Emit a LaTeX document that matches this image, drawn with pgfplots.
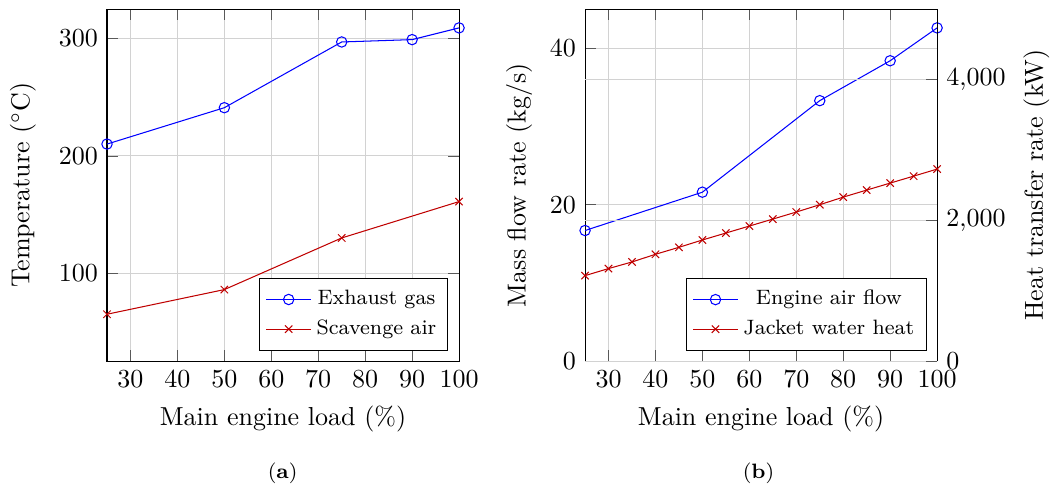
\documentclass[border=0pt]{standalone}
\usepackage{pgfplots}
\pgfplotsset{compat=1.18}
\begin{document}
\begin{tikzpicture}
\useasboundingbox (0pt,0pt) rectangle (404.2pt,185.8pt);
\pgfplotsset{
  every axis/.append style={
    scale only axis, width=135.4pt, height=135.4pt,
    anchor=south west,
    xmin=25, xmax=100,
    xtick={30,40,...,100},
    grid style={gray!35},
    tick style={gray!70!black},
    /pgf/number format/assume math mode=true,
  },
  every axis legend/.append style={
    at={(0.97,0.03)}, anchor=south east, draw=black, font=\footnotesize,
    /tikz/every even column/.append style={column sep=1pt},
    row sep=0.3pt, inner sep=2.5pt,
  },
}
% Panel (a)
\begin{axis}[
  at={(41.15pt,46.9pt)},
  ymin=25, ymax=325,
  ytick={100,200,300},
  xmajorgrids, ymajorgrids,
  xlabel={Main engine load (\%)},
  ylabel={Temperature ($^\circ$C)},
  ylabel style={yshift=2pt},
]
\addplot[blue, mark=o] coordinates {(25,210) (50,241) (75,297) (90,299) (100,309)};
\addlegendentry{Exhaust gas}
\addplot[red!75!black, mark=x] coordinates {(25,65) (50,86) (75,130) (100,161)};
\addlegendentry{Scavenge air}
\end{axis}
% Panel (b), left axis
\begin{axis}[
  at={(225pt,46.9pt)},
  ymin=0, ymax=45,
  ytick={0,20,40},
  axis y line*=left,
  xmajorgrids, ymajorgrids,
  xlabel={Main engine load (\%)},
  ylabel={Mass flow rate (kg/s)},
]
\addplot[blue, mark=o] coordinates {(25,16.7) (50,21.6) (75,33.3) (90,38.4) (100,42.6)};
\end{axis}
% Panel (b), right axis
\begin{axis}[
  at={(225pt,46.9pt)},
  ymin=0, ymax=5000,
  ytick={0,2000,4000},
  axis y line*=right, axis x line=none,
  ymajorgrids,
  ylabel={Heat transfer rate (kW)},
]
\addlegendimage{blue, mark=o}
\addlegendentry{Engine air flow}
\addplot[red!75!black, mark=x] coordinates {(25,1215) (30,1315) (35,1409) (40,1518) (45,1617) (50,1721) (55,1820) (60,1919) (65,2018) (70,2118) (75,2222) (80,2330) (85,2430) (90,2529) (95,2628) (100,2728)};
\addlegendentry{Jacket water heat}
\end{axis}
\node[font=\footnotesize] at (108.7pt,3.65pt) {(\textbf{a})};
\node[font=\footnotesize] at (291.7pt,3.65pt) {(\textbf{b})};
\end{tikzpicture}
\end{document}
